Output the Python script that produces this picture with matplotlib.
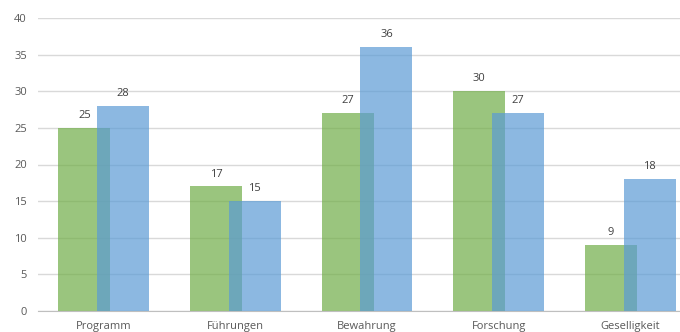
import matplotlib
matplotlib.use("Agg")
import matplotlib.pyplot as plt
import numpy as np

categories = ["Programm", "Führungen", "Bewahrung", "Forschung", "Geselligkeit"]
green_vals = [25, 17, 27, 30, 9]
blue_vals = [28, 15, 36, 27, 18]

plt.rcParams['font.family'] = ['Open Sans', 'DejaVu Sans']

fig = plt.figure(figsize=(6.8, 3.32), dpi=100)
# axes runs a little past the right edge, like the cropped original
ax = fig.add_axes([38/680, 21/332, 658/680, 293/332])

x = np.arange(len(categories))
w = 0.395
off = 0.148
gb = ax.bar(x - off, green_vals, w, color="#70AD47", alpha=0.7, zorder=2)
bb = ax.bar(x + off, blue_vals, w, color="#5B9BD5", alpha=0.7, zorder=3)

for bars, vals in ((gb, green_vals), (bb, blue_vals)):
    for b, v in zip(bars, vals):
        ax.annotate(str(v), (b.get_x() + b.get_width()/2, v), xytext=(0, 5),
                    textcoords="offset points", ha="center", va="bottom",
                    fontsize=8, color="#404040")

ax.set_xlim(-0.5, len(categories) - 0.5)
ax.set_ylim(0, 40)
ax.set_yticks(range(0, 41, 5))
ax.set_xticks(x)
ax.set_xticklabels(categories)
ax.yaxis.grid(True, color="#d9d9d9", lw=1, zorder=0)
ax.set_axisbelow(True)
for s in ["top", "right", "left"]:
    ax.spines[s].set_visible(False)
ax.spines["bottom"].set_color("#bfbfbf")
ax.tick_params(length=0, labelsize=8, colors="#595959")
ax.tick_params(axis="y", pad=8)
ax.tick_params(axis="x", pad=7)

fig.savefig("out.png", dpi=100)
